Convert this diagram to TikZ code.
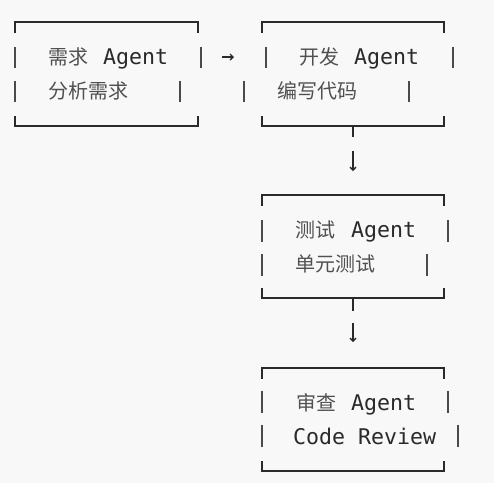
\documentclass[tikz,border=0pt]{standalone}
\usepackage{fontspec}
\setmonofont{DejaVu Sans Mono}
\newfontfamily\cjk{Noto Sans CJK SC}
\usetikzlibrary{arrows.meta}
\definecolor{bg}{HTML}{F8F8F8}
\definecolor{ink}{HTML}{2A2A2A}
\definecolor{cjkink}{HTML}{505050}
\definecolor{barink}{HTML}{4A4A4A}
\newcommand\asciibox[4]{%
  \draw[boxline] (#1,#3+11) -- (#1,#3) -- (#2,#3) -- (#2,#3+11);
  \draw[boxline] (#1,#4-10) -- (#1,#4) -- (#2,#4) -- (#2,#4-10);}
\newcommand\vbar[3]{\draw[bar] (#1,#2) -- (#1,#3);}
\begin{document}
\begin{tikzpicture}[x=1pt,y=-1pt,
  boxline/.style={draw=ink, line width=2pt},
  bar/.style={draw=barink, line width=1.4pt},
  lat/.style={anchor=base west, inner sep=0pt, font=\ttfamily\fontsize{21.6}{21.6}\selectfont, text=ink},
  han/.style={anchor=base west, inner sep=0pt, font=\cjk\fontsize{20}{20}\selectfont, text=cjkink},
  conn/.style={draw=ink, line width=1.3pt},
  arr/.style={conn, -{Straight Barb[length=3pt,width=6pt]}}]
\fill[bg] (0,0) rectangle (494,483);
\useasboundingbox (0,0) rectangle (494,483);

% box 1
\asciibox{15}{198}{22}{126}
\vbar{15}{47}{68}\vbar{201}{47}{68}
\vbar{15}{81}{102}\vbar{180}{81}{102}
\node[han] (t1a) at (48,64) {需求};
\node[lat] (t1b) at (103,64) {Agent};
\node[han] (t1c) at (48,98) {分析需求};

% box 2
\asciibox{262}{444}{22}{126}
\vbar{266}{47}{68}\vbar{453}{47}{68}
\vbar{244}{81}{102}\vbar{409}{81}{102}
\node[han] (t2a) at (299,64) {开发};
\node[lat] (t2b) at (354,64) {Agent};
\node[han] (t2c) at (277,98) {编写代码};

% box 3
\asciibox{262}{444}{195}{298}
\vbar{262}{220}{242}\vbar{448}{220}{242}
\vbar{262}{254}{276}\vbar{427}{254}{276}
\node[han] (t3a) at (295,237) {测试};
\node[lat] (t3b) at (351,237) {Agent};
\node[han] (t3c) at (295,271) {单元测试};

% box 4
\asciibox{262}{444}{368}{471}
\vbar{262}{391}{413}\vbar{448}{391}{413}
\vbar{262}{425}{447}\vbar{458}{425}{447}
\node[han] (t4a) at (296,410) {审查};
\node[lat] (t4b) at (351,410) {Agent};
\node[lat] (t4c) at (293,444) {Code Review};

% connectors
\coordinate (r1) at (222,57);
\coordinate (r2) at (234,57);
\draw[arr] (r1) -- (r2);
\coordinate (d1a) at (353,126);
\coordinate (d1b) at (353,137);
\coordinate (d1c) at (353,151);
\coordinate (d1d) at (353,171);
\draw[conn] (d1a) -- (d1b);
\draw[arr] (d1c) -- (d1d);
\coordinate (d2a) at (353,298);
\coordinate (d2b) at (353,311);
\coordinate (d2c) at (353,323);
\coordinate (d2d) at (353,342);
\draw[conn] (d2a) -- (d2b);
\draw[arr] (d2c) -- (d2d);
\end{tikzpicture}
\end{document}
